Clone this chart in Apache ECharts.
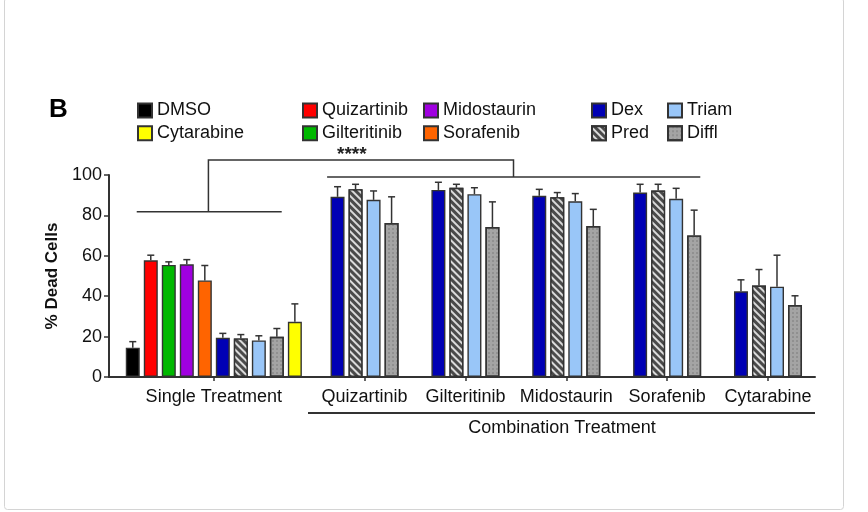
<!DOCTYPE html>
<html><head><meta charset="utf-8">
<script src="https://cdn.jsdelivr.net/npm/echarts@6/dist/echarts.min.js"></script>
<style>html,body{margin:0;padding:0;background:#fff}#c{width:868px;height:512px}</style>
</head><body><div id="c"></div>
<script>
// ---- data ----
const singleNames = ['DMSO','Quizartinib','Gilteritinib','Midostaurin','Sorafenib','Dex','Pred','Triam','Diffl','Cytarabine'];
const singleValues = [14.5,57.8,55.5,55.8,47.8,19.4,19.1,18.1,19.9,27.3];
const singleErrors = [3.0,2.5,1.5,2.3,7.4,2.2,1.9,2.3,4.1,8.9];
const comboGroups = ['Quizartinib','Gilteritinib','Midostaurin','Sorafenib','Cytarabine'];
const steroids = ['Dex','Pred','Triam','Diffl'];
const dexCombo = [89.2,92.6,89.7,91.3,42.4];
const dexComboErr = [5.0,3.8,3.2,4.1,5.7];
const predCombo = [93.0,93.7,89.0,92.3,45.3];
const predComboErr = [2.4,1.7,2.3,3.1,7.9];
const triamCombo = [87.7,90.5,87.0,88.2,44.7];
const triamComboErr = [4.4,3.2,3.8,5.2,15.6];
const difflCombo = [76.2,74.2,74.7,70.1,35.6];
const difflComboErr = [13.0,12.5,8.3,12.5,4.6];
const yTicks = [0,20,40,60,80,100];
const singleLabel = 'Single Treatment';
const comboLabel = 'Combination Treatment';
const sigLabel = '****';

// ---- layout (bar slots) ----
const SINGLE_START = 1.32, COMBO_START = 12.69, GROUP_STEP = 5.6, X_MAX = 39.2;
const comboVals = {Dex:dexCombo, Pred:predCombo, Triam:triamCombo, Diffl:difflCombo};
const comboErrs = {Dex:dexComboErr, Pred:predComboErr, Triam:triamComboErr, Diffl:difflComboErr};

const tickPos = [SINGLE_START + (singleNames.length-1)/2].concat(comboGroups.map((g,i)=>COMBO_START + GROUP_STEP*i + 1.5));
const tickText = [singleLabel].concat(comboGroups);

const styles = {
  DMSO:{color:'#000000'},
  Cytarabine:{color:'#ffff00'},
  Quizartinib:{color:'#ff0000'},
  Gilteritinib:{color:'#00b800'},
  Midostaurin:{color:'#a000e0'},
  Sorafenib:{color:'#ff6400'},
  Dex:{color:'#0000b4'},
  Triam:{color:'#99c6f8'},
  Pred:{color:'#4a4a4a', decal:{symbol:'rect', symbolSize:1, dashArrayX:[[1,0]], dashArrayY:[1.6,2.6], rotation:Math.PI/4, color:'rgba(225,225,225,0.95)'}},
  Diffl:{color:'#a4a4a4', decal:{symbol:'circle', symbolSize:0.7, dashArrayX:[[2,1.5]], dashArrayY:[2,1.5], rotation:0, color:'#6e6e6e'}}
};

const legendOrder = ['DMSO','Cytarabine','Quizartinib','Gilteritinib','Midostaurin','Sorafenib','Dex','Pred','Triam','Diffl'];
const errData = [];
const barSeries = legendOrder.map(name => {
  const data = [];
  const k = singleNames.indexOf(name);
  if (k >= 0) {
    data.push([SINGLE_START + k, singleValues[k]]);
    errData.push([SINGLE_START + k, singleValues[k], singleValues[k] + singleErrors[k]]);
  }
  const s = steroids.indexOf(name);
  if (s >= 0) {
    comboGroups.forEach((g,i) => {
      const x = COMBO_START + GROUP_STEP*i + s;
      data.push([x, comboVals[name][i]]);
      errData.push([x, comboVals[name][i], comboVals[name][i] + comboErrs[name][i]]);
    });
  }
  const st = styles[name];
  const itemStyle = {color: st.color, borderColor:'#333', borderWidth:1.4};
  if (st.decal) itemStyle.decal = st.decal;
  return {type:'bar', name, data, barWidth:14, barGap:'-100%', itemStyle, emphasis:{disabled:true}, z:2};
});

// significance bracket (x in bar slots, y in % units)
const bracketLines = [
  [[1.54,81.8],[9.59,81.8]],
  [[5.52,81.8],[5.52,107.4],[22.46,107.4],[22.46,99]],
  [[12.11,99],[32.83,99]]
];
const starPos = [13.48, 110.0];

const chart = echarts.init(document.getElementById('c'), null, {renderer:'canvas'});
const FONT = "'Liberation Sans', Arial, Helvetica, sans-serif";
const legendBase = {orient:'vertical', itemWidth:14, itemHeight:14, itemGap:4.8, padding:0, selectedMode:false,
  textStyle:{fontFamily:FONT, fontSize:18, color:'#111', padding:[0,0,0,0]}, icon:'rect'};
const legendCols = [[['DMSO','Cytarabine'],137],[['Quizartinib','Gilteritinib'],302],[['Midostaurin','Sorafenib'],423],[['Dex','Pred'],591],[['Triam','Diffl'],667]];

chart.setOption({
  animation:false,
  backgroundColor:'#fff',
  textStyle:{fontFamily:FONT},
  grid:{left:109, right:53, top:175, bottom:135},
  legend: legendCols.map(([d,left]) => Object.assign({}, legendBase, {data:d, left, top:101.5})),
  xAxis:{type:'value', min:0, max:X_MAX,
    axisLine:{show:true, onZero:false, lineStyle:{color:'#333', width:2}},
    axisTick:{show:true, customValues:tickPos, length:4, lineStyle:{color:'#333', width:1.5}},
    axisLabel:{customValues:tickPos, margin:11, fontSize:18, color:'#111', fontFamily:FONT,
      formatter:(v)=>{let b=0;tickPos.forEach((t,i)=>{if(Math.abs(t-v)<Math.abs(tickPos[b]-v))b=i;});return tickText[b];}},
    splitLine:{show:false}},
  yAxis:{type:'value', min:yTicks[0], max:yTicks[yTicks.length-1], interval:yTicks[1]-yTicks[0],
    name:'% Dead Cells', nameLocation:'middle', nameGap:33,
    nameTextStyle:{fontSize:17, fontWeight:'bold', color:'#111', fontFamily:FONT},
    axisLine:{show:true, lineStyle:{color:'#333', width:2}},
    axisTick:{show:true, length:5, lineStyle:{color:'#333', width:1.5}},
    axisLabel:{margin:7, fontSize:18, color:'#111', fontFamily:FONT},
    splitLine:{show:false}},
  series: barSeries.concat([
    {type:'custom', name:'err', data:errData, z:3, clip:false, silent:true,
      renderItem:(params, api)=>{
        const p0 = api.coord([api.value(0), api.value(1)]);
        const p1 = api.coord([api.value(0), api.value(2)]);
        const st = {stroke:'#333', lineWidth:1.5};
        return {type:'group', children:[
          {type:'line', shape:{x1:p0[0],y1:p0[1],x2:p1[0],y2:p1[1]}, style:st},
          {type:'line', shape:{x1:p1[0]-3.5,y1:p1[1],x2:p1[0]+3.5,y2:p1[1]}, style:st}
        ]};
      }},
    {type:'custom', name:'bracket', data:bracketLines.map(b=>b[0]), z:3, clip:false, silent:true,
      renderItem:(params, api)=>{
        const pts = bracketLines[params.dataIndex].map(p=>api.coord(p));
        const children = [{type:'polyline', shape:{points:pts}, style:{stroke:'#333', lineWidth:1.5, fill:null}}];
        if (params.dataIndex === 1) {
          const sp = api.coord(starPos);
          children.push({type:'text', x:sp[0], y:sp[1], style:{text:sigLabel, fontSize:19, fontWeight:'bold', fill:'#222', align:'center', verticalAlign:'middle', fontFamily:FONT}});
        }
        return {type:'group', children};
      }}
  ]),
  graphic:[
    {type:'rect', shape:{x:4.5, y:-2, width:839, height:511.5, r:3}, style:{fill:null, stroke:'#d4d4d4', lineWidth:1}, silent:true},
    {type:'text', left:49, top:97, style:{text:'B', fontSize:26, fontWeight:'bold', fill:'#000', fontFamily:FONT}},
    {type:'line', shape:{x1:308, y1:413, x2:815, y2:413}, style:{stroke:'#333', lineWidth:2}},
    {type:'text', x:562, y:428, style:{text:comboLabel, fontSize:18, fill:'#111', align:'center', verticalAlign:'middle', fontFamily:FONT}}
  ]
});
</script></body></html>
